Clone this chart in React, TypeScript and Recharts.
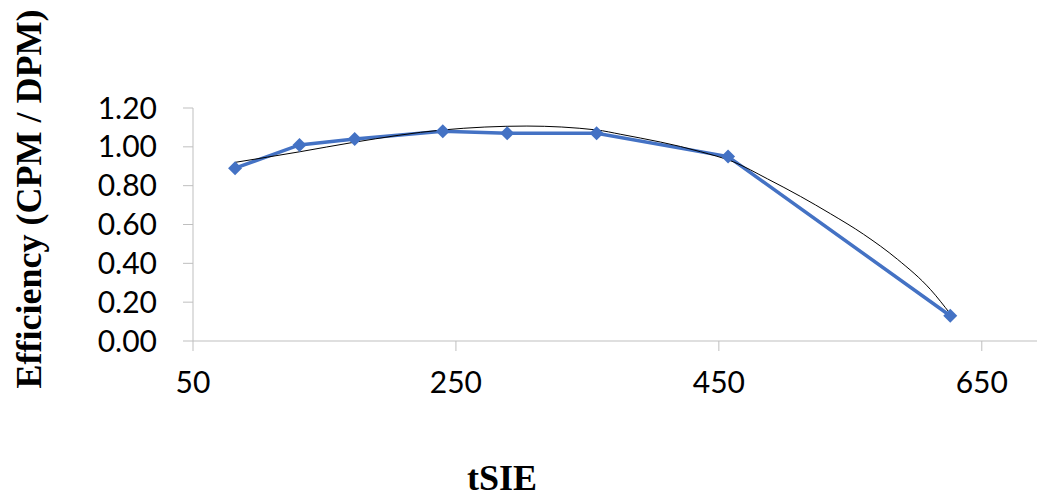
import { LineChart, Line, XAxis, YAxis } from 'recharts';

// measured points (tSIE vs efficiency)
const tsieValues = [82, 131, 173, 240, 289, 357, 457, 626];
const efficiencyValues = [0.89, 1.01, 1.04, 1.08, 1.07, 1.07, 0.95, 0.13];

// trendline
const trendX = [82, 131.5, 172, 240, 304, 357, 375, 436, 461, 487, 512, 535, 560, 586, 611, 626];
const trendY = [0.92, 0.975, 1.023, 1.087, 1.107, 1.087, 1.065, 0.975, 0.923, 0.835, 0.745, 0.655, 0.55, 0.42, 0.265, 0.14];

const xTicks = [50, 250, 450, 650];
const yTicks = [0, 0.2, 0.4, 0.6, 0.8, 1.0, 1.2];

const AXIS = '#bfbfbf';
const BLUE = '#4472C4';
const TICK_FONT = { fontSize: 30, fill: '#000', fontFamily: 'Lato, sans-serif' };

const measured = tsieValues.map((x, i) => ({ x, y: efficiencyValues[i] }));
const trend = trendX.map((x, i) => ({ x, y: trendY[i] }));

const Diamond = (props: any) => {
  const { cx, cy, index } = props;
  const r = 7;
  return (
    <path
      key={`d-${index}`}
      d={`M${cx},${cy - r}L${cx + r},${cy}L${cx},${cy + r}L${cx - r},${cy}Z`}
      fill={BLUE}
    />
  );
};

export default function App() {
  return (
    <div style={{ position: 'absolute', left: 0, top: 0, width: 1040, height: 500, background: '#fff' }}>
      <LineChart width={1040} height={500} margin={{ top: 108, right: 3, left: 0, bottom: 0 }}>
        <XAxis
          type="number"
          dataKey="x"
          domain={[50, 692]}
          ticks={xTicks}
          interval={0}
          allowDataOverflow
          height={159}
          tickSize={10}
          tickMargin={21}
          axisLine={{ stroke: AXIS }}
          tickLine={{ stroke: AXIS }}
          tick={TICK_FONT}
          label={{
            content: () => (
              <text
                x={502}
                y={490}
                textAnchor="middle"
                style={{ fontFamily: '"Liberation Serif", serif', fontWeight: 'bold', fontSize: 36, fill: '#000' }}
              >
                tSIE
              </text>
            ),
          }}
        />
        <YAxis
          type="number"
          domain={[0, 1.2]}
          ticks={yTicks}
          interval={0}
          width={193}
          tickSize={10}
          tickMargin={26}
          axisLine={{ stroke: AXIS }}
          tickLine={{ stroke: AXIS }}
          tick={TICK_FONT}
          tickFormatter={(v: number) => v.toFixed(2)}
          label={{
            content: () => (
              <text
                x={41}
                y={199}
                transform="rotate(-90 41 199)"
                textAnchor="middle"
                style={{ fontFamily: '"Liberation Serif", serif', fontWeight: 'bold', fontSize: 36, fill: '#000' }}
              >
                Efficiency (CPM / DPM)
              </text>
            ),
          }}
        />
        <Line
          data={measured}
          dataKey="y"
          type="linear"
          stroke={BLUE}
          strokeWidth={3.5}
          dot={Diamond}
          activeDot={false}
          isAnimationActive={false}
        />
        <Line
          data={trend}
          dataKey="y"
          type="monotone"
          stroke="#000"
          strokeWidth={1}
          dot={false}
          activeDot={false}
          isAnimationActive={false}
        />
      </LineChart>
    </div>
  );
}
